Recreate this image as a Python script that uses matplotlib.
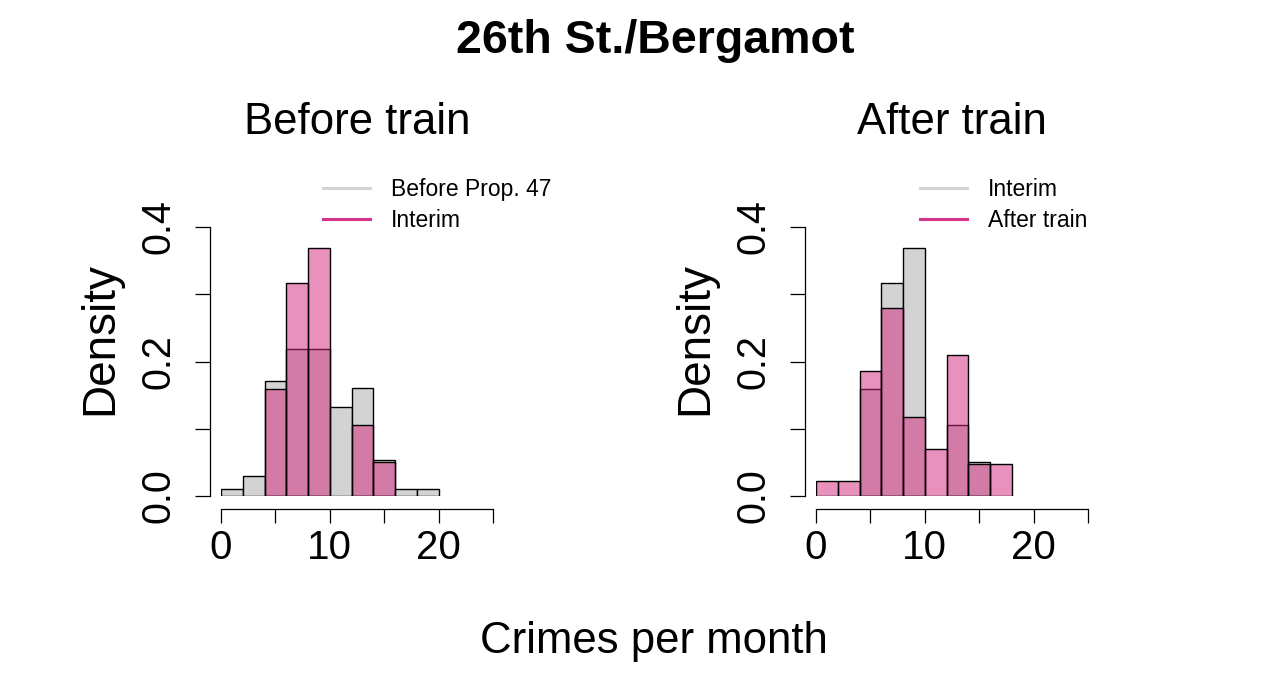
import matplotlib
matplotlib.use("Agg")
import matplotlib.pyplot as plt
from matplotlib.colors import to_rgba
import numpy as np

plt.rcParams['font.family'] = ['Liberation Sans', 'DejaVu Sans']

# bin edges (crimes per month), width 2
edges = np.arange(0, 22, 2)

# densities, one value per bin
before_prop47 = [0.010, 0.029, 0.171, 0.218, 0.218, 0.133, 0.161, 0.053, 0.010, 0.010]
interim = [0.0, 0.0, 0.159, 0.316, 0.369, 0.0, 0.106, 0.051, 0.0, 0.0]
after_train = [0.023, 0.023, 0.186, 0.280, 0.117, 0.070, 0.210, 0.047, 0.047, 0.0]

panels = [
    ("Before train", before_prop47, interim, ["Before Prop. 47", "Interim"]),
    ("After train", interim, after_train, ["Interim", "After train"]),
]

grey = "#D3D3D3"
pink = "#D3257D"

W, H = 1280, 689
fig = plt.figure(figsize=(W / 100, H / 100), dpi=100)

ax_left_px = [221, 816]
ax_w_px = 272
y0_px, y4_px = 496, 227
leg_x_px = [323, 920]


def px_rect(x, w):
    return [x / W, 1 - y0_px / H, w / W, (y0_px - y4_px) / H]


def draw_hist(ax, heights, face):
    h = np.asarray(heights)
    keep = h > 0
    ax.bar(edges[:-1][keep], h[keep], width=2, align='edge',
           facecolor=face, edgecolor='black', linewidth=1.0)


for i, (title, first, second, labels) in enumerate(panels):
    ax = fig.add_axes(px_rect(ax_left_px[i], ax_w_px))
    draw_hist(ax, first, grey)
    draw_hist(ax, second, to_rgba(pink, 0.5))
    ax.set_xlim(0, 25)
    ax.set_ylim(0, 0.4)

    for s in ['top', 'right']:
        ax.spines[s].set_visible(False)
    ax.spines['left'].set_position(('outward', 8))
    ax.spines['bottom'].set_position(('outward', 9.5))
    ax.spines['left'].set_bounds(0, 0.4)
    ax.spines['bottom'].set_bounds(0, 25)
    ax.spines['left'].set_linewidth(0.9)
    ax.spines['bottom'].set_linewidth(0.9)

    ax.set_yticks([0, 0.1, 0.2, 0.3, 0.4])
    ax.set_yticklabels(["0.0", "", "0.2", "", "0.4"], rotation=90, va='center')
    ax.set_xticks([0, 5, 10, 15, 20, 25])
    ax.set_xticklabels(["0", "", "10", "", "20", ""])
    ax.tick_params(axis='y', length=11, width=0.9, labelsize=28.5, pad=12)
    ax.tick_params(axis='x', length=10, width=0.9, labelsize=29, pad=4)

    ax.set_ylabel("Density", fontsize=33, labelpad=13)
    ax.yaxis.label.set_y(0.587)
    fig.text((ax_left_px[i] + ax_w_px / 2) / W, 1 - 122 / H, title,
             fontsize=31.5, ha='center', va='center')

    ax.plot([], [], color=grey, linewidth=2.2, label=labels[0])
    ax.plot([], [], color="#D6338A", linewidth=2.2, label=labels[1])
    ax.legend(loc='upper left', bbox_to_anchor=(leg_x_px[i] / W, 1 - 178 / H),
              bbox_transform=fig.transFigure, frameon=False, fontsize=16.5,
              handlelength=2.05, handletextpad=0.9, borderpad=0,
              borderaxespad=0, labelspacing=0.35)

fig.text(655 / W, 1 - 41 / H, "26th St./Bergamot", fontsize=33.5,
         fontweight='bold', ha='center', va='center')
fig.text(654 / W, 1 - 641 / H, "Crimes per month", fontsize=31.5,
         ha='center', va='center')

fig.savefig("out.png", dpi=100)
